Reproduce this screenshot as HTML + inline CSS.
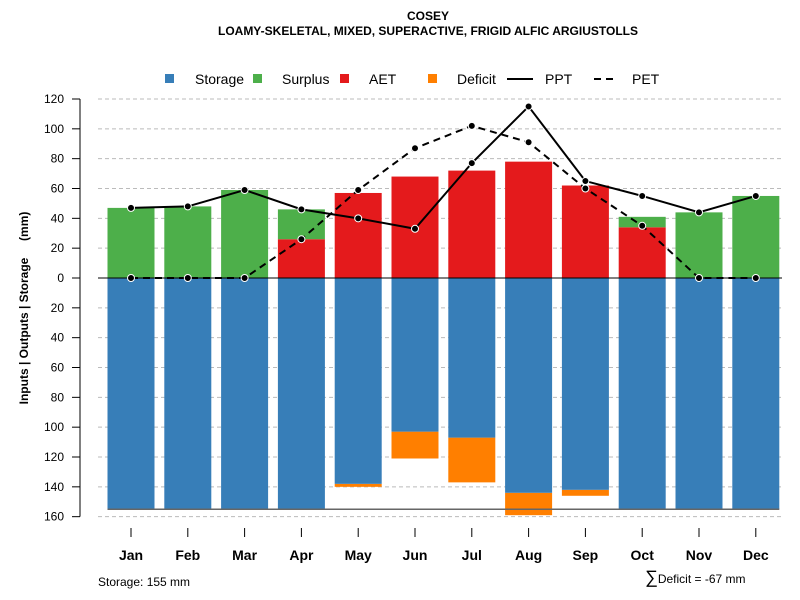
<!DOCTYPE html>
<html><head><meta charset="utf-8"><style>
body{margin:0;background:#fff;}
svg{font-family:"Liberation Sans",Arial,sans-serif;display:block}
</style></head><body>
<svg id="chart" width="800" height="600" viewBox="0 0 800 600">
<text x="428" y="20" text-anchor="middle" font-size="12" font-weight="bold">COSEY</text>
<text x="428" y="35" text-anchor="middle" font-size="12" font-weight="bold">LOAMY-SKELETAL, MIXED, SUPERACTIVE, FRIGID ALFIC ARGIUSTOLLS</text>
<g id="legend" font-size="14">
<g><rect x="165" y="74" width="9" height="9" fill="#377EB8"/><text x="195" y="84">Storage</text></g>
<g><rect x="253" y="74" width="9" height="9" fill="#4DAF4A"/><text x="282" y="84">Surplus</text></g>
<g><rect x="340" y="74" width="9" height="9" fill="#E41A1C"/><text x="369" y="84">AET</text></g>
<g><rect x="428" y="74" width="9" height="9" fill="#FF7F00"/><text x="457" y="84">Deficit</text></g>
<g><line x1="507" y1="79" x2="533" y2="79" stroke="#000" stroke-width="2"/><text x="545" y="84">PPT</text></g>
<g><line x1="594" y1="79" x2="617" y2="79" stroke="#000" stroke-width="2" stroke-dasharray="7,5"/><text x="632" y="84">PET</text></g>
</g>
<g id="grid"></g>
<g id="bars"></g>
<g id="lines"></g>
<g id="axes"></g>
<text transform="translate(28,308) rotate(-90)" text-anchor="middle" font-size="12" font-weight="bold" xml:space="preserve" style="white-space:pre">Inputs | Outputs | Storage     (mm)</text>
<text x="98" y="586" font-size="12">Storage: 155 mm</text>
<text x="645" y="583" font-size="12"><tspan font-size="18">∑</tspan>Deficit = -67 mm</text>
</svg>
<script>
const months=["Jan","Feb","Mar","Apr","May","Jun","Jul","Aug","Sep","Oct","Nov","Dec"];
const storage=[155,155,155,155,138,103,107,144,142,155,155,155];
const deficit=[0,0,0,0,2,18,30,15,4,0,0,0];
const aet=[0,0,0,26,57,68,72,78,62,34,0,0];
const surplus=[47,48,59,20,0,0,0,0,0,7,44,55];
const ppt=[47,48,59,46,40,33,77,115,65,55,44,55];
const pet=[0,0,0,26,59,87,102,91,60,35,0,0];
const yTicks=[120,100,80,60,40,20,0,20,40,60,80,100,120,140,160];
const yTickVals=[120,100,80,60,40,20,0,-20,-40,-60,-80,-100,-120,-140,-160];
const storageMax=155;

const NS="http://www.w3.org/2000/svg";
const y=v=>278-v*1.4917;
const x=i=>131+i*56.8;
const bw=47;
function mk(tag,attrs,parent){const e=document.createElementNS(NS,tag);for(const k in attrs)e.setAttribute(k,attrs[k]);parent.appendChild(e);return e;}
const grid=document.getElementById('grid'),bars=document.getElementById('bars'),lines=document.getElementById('lines'),axes=document.getElementById('axes');
yTickVals.forEach((v,i)=>{
  if(v!==0){const g=mk('line',{x1:98,x2:782,y1:y(v),y2:y(v),stroke:'#bbb','stroke-dasharray':'4,3'},grid);
  
  }
  const t=mk('line',{x1:72,x2:80,y1:y(v),y2:y(v),stroke:'#000'},axes);
  
  
  const l=mk('text',{x:64,y:y(v)+4,'text-anchor':'end','font-size':12},axes);l.textContent=yTicks[i];
  
  
});
const ax=mk('line',{x1:80,x2:80,y1:y(120),y2:y(-160),stroke:'#000'},axes);


months.forEach((m,i)=>{
  const cx=x(i),l=cx-bw/2;
  const d=mk('rect',{x:l,y:y(-storage[i]),width:bw,height:deficit[i]*1.4917,fill:'#FF7F00'},bars);
  
  
  const s=mk('rect',{x:l,y:y(0),width:bw,height:storage[i]*1.4917,fill:'#377EB8'},bars);
  
  
  const a=mk('rect',{x:l,y:y(aet[i]),width:bw,height:aet[i]*1.4917,fill:'#E41A1C'},bars);
  
  
  const su=mk('rect',{x:l,y:y(aet[i]+surplus[i]),width:bw,height:surplus[i]*1.4917,fill:'#4DAF4A'},bars);
  
  
  const t=mk('line',{x1:cx,x2:cx,y1:528,y2:537,stroke:'#000'},axes);
  
  
  const tl=mk('text',{x:cx,y:560,'text-anchor':'middle','font-size':14,'font-weight':'bold'},axes);tl.textContent=m;
  
  
});
const sl=mk('line',{x1:x(0)-bw/2,x2:x(11)+bw/2,y1:y(-storageMax),y2:y(-storageMax),stroke:'#666','stroke-width':1.5},bars);


const zl=mk('line',{x1:98,x2:782,y1:y(0),y2:y(0),stroke:'#000'},bars);


function series(arr,name,dash){
  const p=mk('polyline',{points:arr.map((v,i)=>x(i)+','+y(v)).join(' '),fill:'none',stroke:'#000','stroke-width':2,'stroke-dasharray':dash},lines);
  
  
  arr.forEach((v,i)=>{const c=mk('circle',{cx:x(i),cy:y(v),r:3.5,fill:'#000',stroke:'#fff','stroke-width':1},lines);
  
  });
}
series(pet,'pet','7,5');
series(ppt,'ppt','none');
</script>
</body></html>
